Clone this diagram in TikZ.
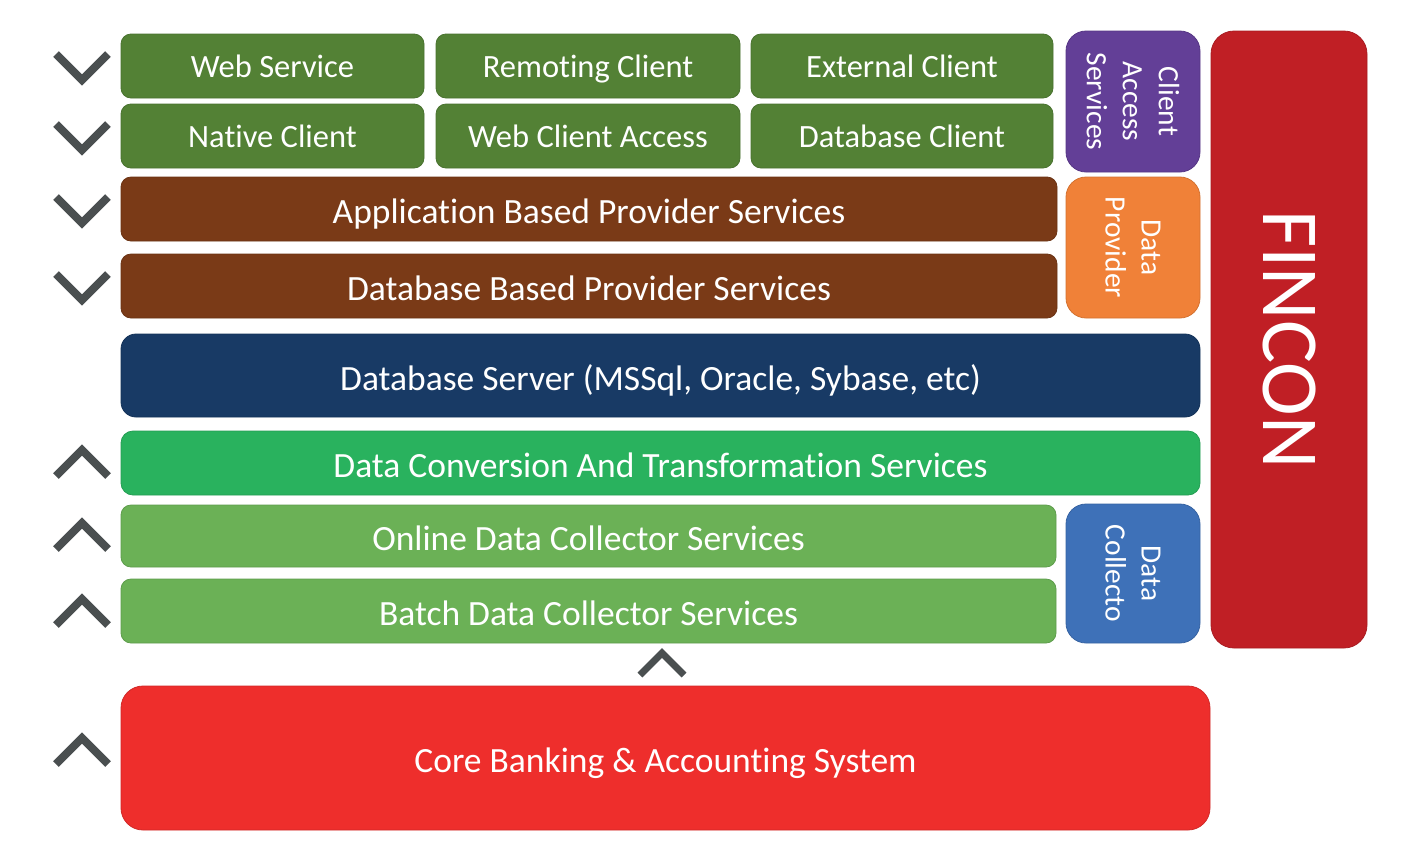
\documentclass[tikz,border=0pt]{standalone}
\usepackage{fontspec}
\setmainfont{Carlito}[Ligatures=NoCommon,RawFeature=-clig]
\usepackage{tikz}
\usetikzlibrary{positioning}

\definecolor{clientgreen}{HTML}{538135}
\definecolor{providerbrown}{HTML}{7A3A17}
\definecolor{servernavy}{HTML}{183A65}
\definecolor{convgreen}{HTML}{29B25E}
\definecolor{collectgreen}{HTML}{6BB156}
\definecolor{accesspurple}{HTML}{633F97}
\definecolor{dporange}{HTML}{F08138}
\definecolor{dcblue}{HTML}{3E71B8}
\definecolor{finconred}{HTML}{C01F25}
\definecolor{corered}{HTML}{EE2E2C}
\definecolor{chevgray}{HTML}{4A4F50}

\tikzset{
  layer/.style={rounded corners=10pt, inner sep=0pt, outer sep=0pt,
    anchor=north west, text=white, fill=#1, draw=#1!88!black,
    line width=0.8pt, text height=25pt, text depth=2pt,
    font=\fontsize{32.5}{38}\selectfont},
  widelayer/.style={layer=#1, text height=29pt, text depth=0pt,
    font=\fontsize{35.5}{40}\selectfont},
  sidebox/.style={layer=#1, anchor=center, rotate=-90, align=center,
    text height=, text depth=,
    rounded corners=20pt, font=\fontsize{29.5}{36}\selectfont},
  chevron/.style={draw=chevgray, line width=8pt},
}

\begin{document}
\begin{tikzpicture}[x=1pt,y=-1pt]
        \useasboundingbox (0,0) rectangle (1412,847);

        % client layer
        \node[layer=clientgreen, minimum width=303pt, minimum height=64pt]
        (websrv) at (121,34) {Web Service};
        \node[layer=clientgreen, minimum width=304pt, minimum height=64pt]
        (remoting) at (436,34) {Remoting Client};
        \node[layer=clientgreen, minimum width=302pt, minimum height=64pt]
        (external) at (751,34) {External Client};
        \node[layer=clientgreen, minimum width=303pt, minimum height=64pt]
        (native) at (121,104) {Native Client};
        \node[layer=clientgreen, minimum width=304pt, minimum height=64pt]
        (webaccess) at (436,104) {Web Client Access};
        \node[layer=clientgreen, minimum width=302pt, minimum height=64pt]
        (dbclient) at (751,104) {Database Client};

        % provider layer
        \node[widelayer=providerbrown, minimum width=936pt, minimum height=64pt]
        (appprov) at (121,177) {Application Based Provider Services};
        \node[widelayer=providerbrown, minimum width=936pt, minimum height=64pt]
        (dbprov) at (121,254) {Database Based Provider Services};

        % server
        \node[widelayer=servernavy, rounded corners=15pt, minimum width=1079pt,
        minimum height=83pt] (dbserver) at (121,334)
        {Database Server (MSSql, Oracle, Sybase, etc)};

        % collector layer
        \node[widelayer=convgreen, rounded corners=12pt, minimum width=1079pt,
        minimum height=64pt] (convert) at (121,431)
        {Data Conversion And Transformation Services};
        \node[widelayer=collectgreen, minimum width=935pt, minimum height=62pt]
        (online) at (121,505) {Online Data Collector Services};
        \node[widelayer=collectgreen, minimum width=935pt, minimum height=64pt]
        (batch) at (121,579) {Batch Data Collector Services};

        % core system
        \node[widelayer=corered, rounded corners=22pt, minimum width=1089pt,
        minimum height=144pt] (core) at (121,686)
        {Core Banking \& Accounting System};

        % side labels
        \node[sidebox=accesspurple, minimum width=141pt, minimum height=134pt]
        (access) at (1133,101.5) {Client\\Access\\Services};
        \node[sidebox=dporange, minimum width=141pt, minimum height=134pt]
        (provider) at (1133,247.5) {Data\\Provider};
        \node[sidebox=dcblue, minimum width=139pt, minimum height=134pt]
        (collector) at (1133,573.5) {Data\\Collecto};

        \node[sidebox=finconred, rounded corners=23pt, minimum width=617pt,
        minimum height=156pt, font=\fontsize{81}{81}\selectfont]
        (fincon) at (1289,339.5) {FINCON};

        % chevrons
        \foreach \e in {54,124,197,274}
        \draw[chevron] (56,\e) -- ++(26,26) -- ++(26,-26);
        \foreach \t in {450,523,599,738}
        \draw[chevron] (56,\t+26) -- ++(26,-26) -- ++(26,26);
        \draw[chevron, line width=7pt] (640,675) -- ++(22,-22) -- ++(22,22);
\end{tikzpicture}
\end{document}
